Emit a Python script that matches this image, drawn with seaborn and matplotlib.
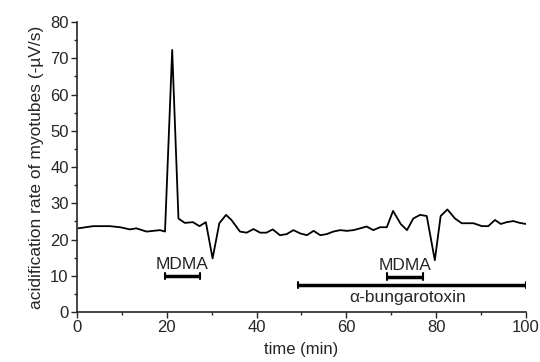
import numpy as np
import pandas as pd
import matplotlib
matplotlib.use("Agg")
import matplotlib.pyplot as plt
from matplotlib.ticker import MultipleLocator
import seaborn as sns

# acidification trace
time = [0.3, 3.6, 7.3, 9.6, 11.8, 13.2, 15.5, 18.5, 19.6, 21.2, 22.6, 24.0,
        25.8, 27.3, 28.7, 30.2, 31.7, 33.2, 34.4, 36.3, 37.8, 39.3, 40.8,
        42.2, 43.6, 45.2, 46.7, 48.2, 49.7, 51.2, 52.7, 54.2, 55.6, 57.1,
        58.6, 60.1, 61.6, 63.1, 64.5, 66.0, 67.5, 69.0, 70.4, 72.1, 73.5,
        74.9, 76.4, 77.9, 79.7, 81.0, 82.5, 84.2, 85.7, 88.3, 90.2, 91.6,
        93.1, 94.4, 95.7, 97.2, 98.6, 100.0]
rate = [23.1, 23.7, 23.7, 23.4, 22.8, 23.1, 22.2, 22.6, 22.2, 72.3, 25.8, 24.6,
        24.8, 23.7, 24.8, 14.8, 24.5, 26.8, 25.4, 22.2, 21.9, 22.9, 21.9,
        21.9, 22.8, 21.2, 21.5, 22.6, 21.7, 21.2, 22.4, 21.2, 21.5, 22.2,
        22.6, 22.4, 22.6, 23.1, 23.6, 22.6, 23.4, 23.4, 27.9, 24.3, 22.6,
        25.8, 26.8, 26.5, 14.3, 26.5, 28.3, 25.8, 24.5, 24.5, 23.7, 23.7,
        25.4, 24.3, 24.8, 25.1, 24.6, 24.3]

# treatment periods
treat_names = ["MDMA", "MDMA", "α-bungarotoxin"]
treat_start = [19.5, 69.0, 49.3]
treat_end = [27.4, 77.1, 100.0]
treat_level = [10.0, 9.8, 7.4]

df = pd.DataFrame({"time": time, "rate": rate})

sns.set_style("ticks")
plt.rcParams["font.family"] = ["Liberation Sans", "DejaVu Sans"]

fig = plt.figure(figsize=(5.4, 3.62), dpi=100)
ax = fig.add_axes([0.1426, 0.138, 0.8314, 0.801])

sns.lineplot(data=df, x="time", y="rate", color="black", linewidth=1.3, ax=ax)

for name, s, e, lv in zip(treat_names, treat_start, treat_end, treat_level):
    ax.plot([s, e], [lv, lv], color="black", linewidth=2.5, solid_capstyle="butt")
    ax.plot([s, s], [lv - 0.9, lv + 0.9], color="black", linewidth=1.5)
    ax.plot([e, e], [lv - 0.9, lv + 0.9], color="black", linewidth=1.5)
    mid = (s + e) / 2
    if name == "MDMA":
        ax.text(mid, lv + 1.1, name, ha="center", va="bottom", fontsize=12.5)
    else:
        ax.text(73.7, lv - 1.2, name, ha="center", va="top", fontsize=12.5)

ax.set_xlim(0, 100)
ax.set_ylim(0, 80)
ax.xaxis.set_major_locator(MultipleLocator(20))
ax.xaxis.set_minor_locator(MultipleLocator(10))
ax.yaxis.set_major_locator(MultipleLocator(10))
ax.yaxis.set_minor_locator(MultipleLocator(5))
ax.tick_params(which="major", direction="out", length=4, width=1, labelsize=12, pad=2)
ax.tick_params(which="minor", direction="out", length=2.5, width=1)
for sp in ["left", "bottom"]:
    ax.spines[sp].set_linewidth(1.2)
sns.despine(ax=ax)

ax.set_xlabel("time (min)", fontsize=12, labelpad=5)
ax.set_ylabel("acidification rate of myotubes (-µV/s)", fontsize=12.5, labelpad=4)

fig.savefig("out.png", dpi=100)
